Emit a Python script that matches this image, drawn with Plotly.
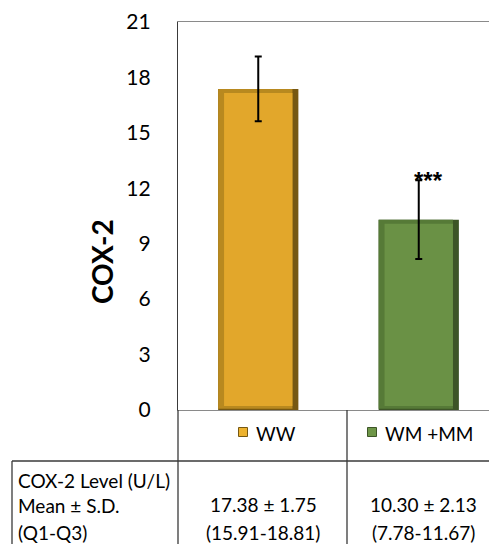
import plotly.graph_objects as go

# ---- data ----
categories = ["WW", "WM +MM"]
means = [17.38, 10.30]
sds = [1.75, 2.13]
q1 = [15.91, 7.78]
q3 = [18.81, 11.67]
significance = ["", "***"]
y_ticks = [0, 3, 6, 9, 12, 15, 18, 21]
row_labels = ["COX-2 Level (U/L)", "Mean ± S.D.", "(Q1-Q3)"]
y_title = "COX-2"

# ---- style ----
FONT = "Lato, 'Open Sans', sans-serif"
face = ["#E2A72B", "#6A9145"]
left_bevel = ["#B8891F", "#567A37"]
dark_edge = ["#765812", "#3D5527"]
key_fill = ["#EDB22E", "#6E9648"]

xs = list(range(len(categories)))
bar_w = 0.5
bev_x = 0.037
bev_y = 0.22

fig = go.Figure()
# outer (dark right/bottom edge)
fig.add_trace(go.Bar(x=xs, y=means, width=bar_w, marker=dict(color=dark_edge, line=dict(width=0)),
                     showlegend=False, hoverinfo="skip"))
# left/top bevel
fig.add_trace(go.Bar(x=xs, y=[m - bev_y * 0.3 for m in means], base=[bev_y * 0.3] * len(xs),
                     width=bar_w - bev_x, offset=-bar_w / 2,
                     marker=dict(color=left_bevel, line=dict(width=0)),
                     showlegend=False, hoverinfo="skip"))
# main face
fig.add_trace(go.Bar(x=xs, y=[m - 2 * bev_y for m in means], base=[bev_y] * len(xs),
                     width=bar_w - 2 * bev_x, offset=-bar_w / 2 + bev_x,
                     marker=dict(color=face, line=dict(width=0)),
                     showlegend=False, hoverinfo="skip"))
# error bars on invisible markers at the means
fig.add_trace(go.Scatter(x=xs, y=means, mode="markers", marker=dict(size=1, color="rgba(0,0,0,0)"),
                         error_y=dict(type="data", array=sds, visible=True, color="#000000",
                                      thickness=2, width=3.5),
                         showlegend=False, hoverinfo="skip"))

# significance stars
for xi, m, s, sig in zip(xs, means, sds, significance):
    if sig:
        fig.add_annotation(x=xi, y=m + s, xref="x", yref="y", text=f"<b>{sig}</b>", showarrow=False,
                           xanchor="center", yanchor="middle", xshift=10, yshift=0,
                           font=dict(family="'Liberation Sans', Arial, sans-serif", size=24,
                                     color="#000000"))

# ---- layout geometry (pixels -> paper) ----
W, H = 489, 544
ML, MT, MB = 178, 22, 134
PW = W - ML
PH = H - MT - MB

def px(xp):
    return (xp - ML) / PW

def py(yp):
    return (H - MB - yp) / PH

line_col = "#3a3a3a"
table_shapes = [
    dict(x0=px(178), x1=px(178), y0=0, y1=py(544)),
    dict(x0=px(347), x1=px(347), y0=0, y1=py(544)),
    dict(x0=px(12), x1=1, y0=py(461), y1=py(461)),
    dict(x0=px(12), x1=px(12), y0=py(461), y1=py(544)),
]
for s in table_shapes:
    fig.add_shape(type="line", xref="paper", yref="paper", line=dict(color=line_col, width=1.3), **s)

# legend keys and labels in table header
col_key_x = [243, 372]
col_center_x = [263, 423]
for i, cat in enumerate(categories):
    kx = col_key_x[i]
    fig.add_shape(type="rect", xref="paper", yref="paper",
                  x0=px(kx - 4.5), x1=px(kx + 4.5), y0=py(436.5), y1=py(427.5),
                  fillcolor=key_fill[i], line=dict(color=dark_edge[i], width=1))
    fig.add_annotation(x=px(kx + 11), y=py(433), xref="paper", yref="paper", text=cat,
                       showarrow=False, xanchor="left", yanchor="middle",
                       font=dict(family=FONT, size=19, color="#000"))
    fig.add_annotation(x=px(col_center_x[i]), y=py(504), xref="paper", yref="paper",
                       text=f"{means[i]:.2f} ± {sds[i]:.2f}", showarrow=False,
                       xanchor="center", yanchor="middle",
                       font=dict(family=FONT, size=19, color="#000"))
    fig.add_annotation(x=px(col_center_x[i]), y=py(532), xref="paper", yref="paper",
                       text=f"({q1[i]:.2f}-{q3[i]:.2f})", showarrow=False,
                       xanchor="center", yanchor="middle",
                       font=dict(family=FONT, size=19, color="#000"))

row_y = [480, 505, 532]
for lab, yy in zip(row_labels, row_y):
    fig.add_annotation(x=px(16), y=py(yy), xref="paper", yref="paper", text=lab,
                       showarrow=False, xanchor="left", yanchor="middle",
                       font=dict(family=FONT, size=19, color="#000"))

# y-axis title
fig.add_annotation(x=px(102), y=py(262), xref="paper", yref="paper", text=f"<b>{y_title}</b>",
                   textangle=-90, showarrow=False, xanchor="center", yanchor="middle",
                   font=dict(family=FONT, size=28, color="#000"))

fig.update_layout(
    width=W, height=H,
    margin=dict(l=ML, r=0, t=MT, b=MB, pad=0),
    paper_bgcolor="white", plot_bgcolor="white",
    barmode="overlay",
    showlegend=False,
    xaxis=dict(range=[-0.5, -0.5 + PW / 160.5], showticklabels=False, ticks="",
               showgrid=False, zeroline=False, showline=True, linecolor="#8a8a8a",
               linewidth=1.3, mirror=True, fixedrange=True),
    yaxis=dict(range=[0, 21], tickvals=y_ticks, ticktext=[str(v) for v in y_ticks],
               showgrid=False, zeroline=False, showline=True, linecolor=line_col, linewidth=1.3,
               ticks="", ticklabelstandoff=22,
               tickfont=dict(family=FONT, size=21, color="#000"), fixedrange=True),
)

fig.write_html("out.html")
